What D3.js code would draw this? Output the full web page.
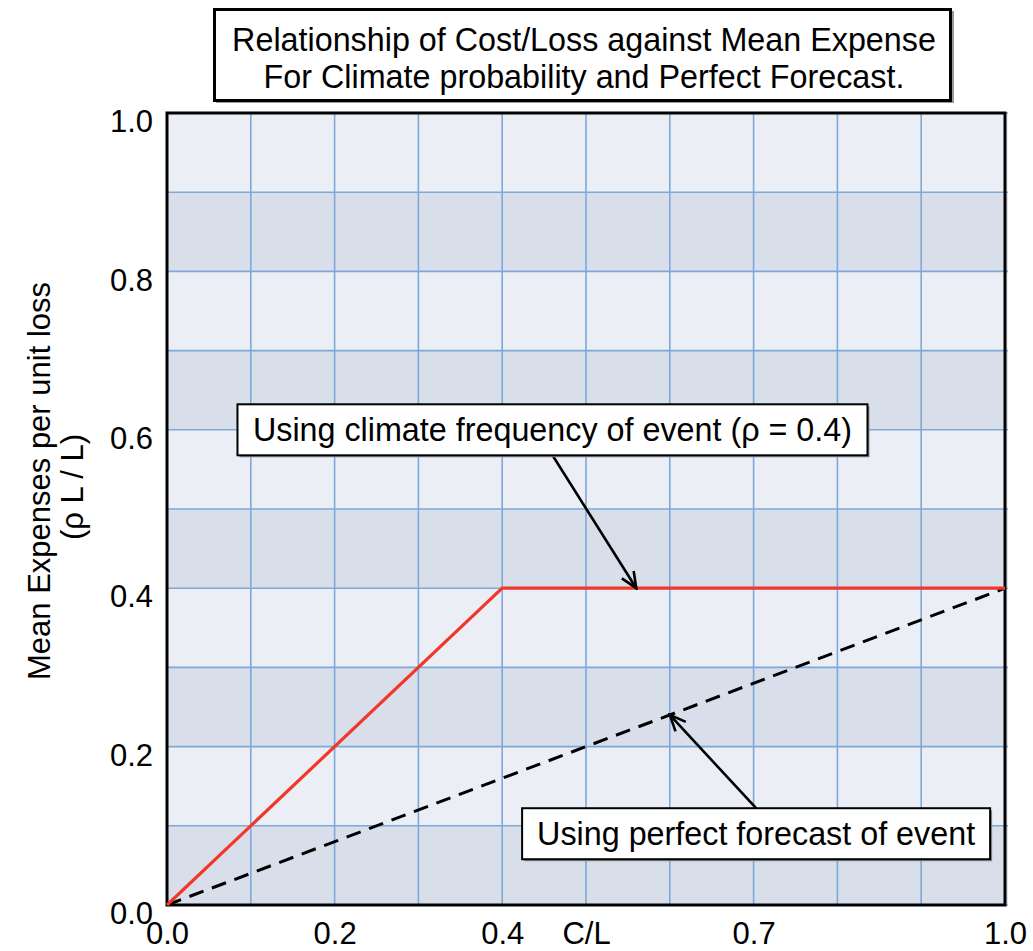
<!DOCTYPE html>
<html>
<head>
<meta charset="utf-8">
<script src="https://cdn.jsdelivr.net/npm/d3@7"></script>
<style>
  html, body { margin: 0; padding: 0; background: #ffffff; }
  svg { display: block; font-family: "Liberation Sans", Arial, Helvetica, sans-serif; }
</style>
</head>
<body>
<svg id="chart" width="1033" height="951"></svg>
<script>
// Cost/loss ratio (C/L) against mean expense per unit loss
const titleLines = [
  "Relationship of Cost/Loss against Mean Expense",
  "For Climate probability and Perfect Forecast."
];

// Climate-frequency strategy: expense = C/L up to rho, then rho
const climateCL = [0.0, 0.4, 1.0];
const climateExpense = [0.0, 0.4, 0.4];

// Perfect forecast strategy: expense = rho * C/L
const perfectCL = [0.0, 1.0];
const perfectExpense = [0.0, 0.4];

const gridValues = [0.0, 0.1, 0.2, 0.3, 0.4, 0.5, 0.6, 0.7, 0.8, 0.9, 1.0];
const xTickValues = [0.0, 0.2, 0.4, 0.5, 0.7, 1.0];
const xTickLabels = ["0.0", "0.2", "0.4", "C/L", "0.7", "1.0"];
const yTickValues = [0.0, 0.2, 0.4, 0.6, 0.8, 1.0];
const yTickLabels = ["0.0", "0.2", "0.4", "0.6", "0.8", "1.0"];
const yTitleLines = ["Mean Expenses per unit loss", "(\u03C1 L / L)"];

const climateNote = {text: "Using climate frequency of event (\u03C1 = 0.4)", cx: 0.46, cy: 0.6, tip: [0.56, 0.4]};
const perfectNote = {text: "Using perfect forecast of event", cx: 0.703, cy: 0.09, tip: [0.6, 0.24]};

const svg = d3.select("#chart");
const plotLeft = 167, plotRight = 1005, plotTop = 113, plotBottom = 905;

const x = d3.scaleLinear().domain([0, 1]).range([plotLeft, plotRight]);
const y = d3.scaleLinear().domain([0, 1]).range([plotBottom, plotTop]);

// Title box
const titleG = svg.append("g");
titleG.append("rect").attr("x", 216).attr("y", 11).attr("width", 738).attr("height", 92)
  .attr("fill", "#9a9a9a");
titleG.append("rect").attr("x", 214.5).attr("y", 9.5).attr("width", 736).attr("height", 91)
  .attr("fill", "#ffffff").attr("stroke", "#000").attr("stroke-width", 3);
titleG.selectAll("text").data(titleLines).join("text")
  .attr("x", 584).attr("y", (d, i) => 51 + i * 37)
  .attr("text-anchor", "middle").attr("font-size", 32.3).attr("fill", "#000")
  .text(d => d);

// Alternating row bands
const bands = gridValues.slice(0, -1);
svg.append("g").selectAll("rect").data(bands).join("rect")
  .attr("x", x(0)).attr("width", x(1) - x(0) + 3)
  .attr("y", (d, i) => y(gridValues[i + 1])).attr("height", (d, i) => y(d) - y(gridValues[i + 1]))
  .attr("fill", (d, i) => i % 2 === 0 ? "#d8dfea" : "#ebeff5");

// Grid lines
const grid = svg.append("g").attr("stroke", "#7ea8d8").attr("stroke-width", 1.6);
grid.selectAll(".gv").data(gridValues).join("line").attr("class", "gv")
  .attr("x1", d => x(d)).attr("x2", d => x(d)).attr("y1", y(0)).attr("y2", y(1));
grid.selectAll(".gh").data(gridValues).join("line").attr("class", "gh")
  .attr("y1", d => y(d)).attr("y2", d => y(d)).attr("x1", x(0)).attr("x2", x(1) + 3);

// Plot frame
svg.append("rect").attr("x", x(0)).attr("y", y(1)).attr("width", x(1) - x(0)).attr("height", y(0) - y(1))
  .attr("fill", "none").attr("stroke", "#000").attr("stroke-width", 3);

// Series
const line = d3.line().x(d => x(d[0])).y(d => y(d[1]));
svg.append("path").datum(d3.zip(perfectCL, perfectExpense))
  .attr("d", line).attr("fill", "none").attr("stroke", "#000")
  .attr("stroke-width", 3).attr("stroke-dasharray", "15,9");
svg.append("path").datum(d3.zip(climateCL, climateExpense))
  .attr("d", line).attr("fill", "none").attr("stroke", "#f2372a")
  .attr("stroke-width", 3.2).attr("stroke-linejoin", "miter");

// Axes
const xAxis = d3.axisBottom(x).tickValues(xTickValues)
  .tickFormat((d, i) => xTickLabels[i]).tickSize(0).tickPadding(0);
const gx = svg.append("g").attr("transform", `translate(0,${plotBottom})`).call(xAxis);
gx.select(".domain").remove();
gx.selectAll("text").attr("font-size", 31).attr("fill", "#000")
  .attr("font-family", "Liberation Sans, Arial, sans-serif").attr("dy", null).attr("y", 39);

const yAxis = d3.axisLeft(y).tickValues(yTickValues)
  .tickFormat((d, i) => yTickLabels[i]).tickSize(0).tickPadding(14);
const gy = svg.append("g").attr("transform", `translate(${plotLeft},0)`).call(yAxis);
gy.select(".domain").remove();
gy.selectAll("text").attr("font-size", 31).attr("fill", "#000")
  .attr("font-family", "Liberation Sans, Arial, sans-serif").attr("dy", "0.6em");

// Y axis title, two rotated lines
svg.selectAll(".ytitle").data(yTitleLines).join("text").attr("class", "ytitle")
  .attr("transform", (d, i) => `translate(${i === 0 ? 50 : 83},${i === 0 ? 481 : 487}) rotate(-90)`)
  .attr("text-anchor", "middle").attr("font-size", 31).attr("fill", "#000")
  .text(d => d);

// Open arrowhead marker
svg.append("defs").append("marker")
  .attr("id", "openArrow").attr("markerUnits", "userSpaceOnUse")
  .attr("viewBox", "0 0 20 20").attr("refX", 18).attr("refY", 10)
  .attr("markerWidth", 20).attr("markerHeight", 20).attr("orient", "auto")
  .append("path").attr("d", "M2,3 L18,10 L2,17")
  .attr("fill", "none").attr("stroke", "#000").attr("stroke-width", 2.6);

// Callout boxes with arrows
function callout(note, boxW, boxH, tailFromTop) {
  const cx = x(note.cx), cy = y(note.cy);
  const g = svg.append("g");
  const tailY = tailFromTop ? cy - boxH / 2 : cy + boxH / 2;
  g.append("line")
    .attr("x1", cx).attr("y1", tailY)
    .attr("x2", x(note.tip[0])).attr("y2", y(note.tip[1]))
    .attr("stroke", "#000").attr("stroke-width", 2.6)
    .attr("marker-end", "url(#openArrow)");
  g.append("rect").attr("x", cx - boxW / 2 + 2).attr("y", cy - boxH / 2 + 2)
    .attr("width", boxW).attr("height", boxH).attr("fill", "#8c8c8c");
  g.append("rect").attr("x", cx - boxW / 2).attr("y", cy - boxH / 2)
    .attr("width", boxW).attr("height", boxH)
    .attr("fill", "#ffffff").attr("stroke", "#000").attr("stroke-width", 2);
  g.append("text").attr("x", cx).attr("y", cy + 11)
    .attr("text-anchor", "middle").attr("font-size", 32.3).attr("fill", "#000")
    .text(note.text);
}
callout(climateNote, 630, 51, false);
callout(perfectNote, 468, 51, true);
</script>
</body>
</html>
